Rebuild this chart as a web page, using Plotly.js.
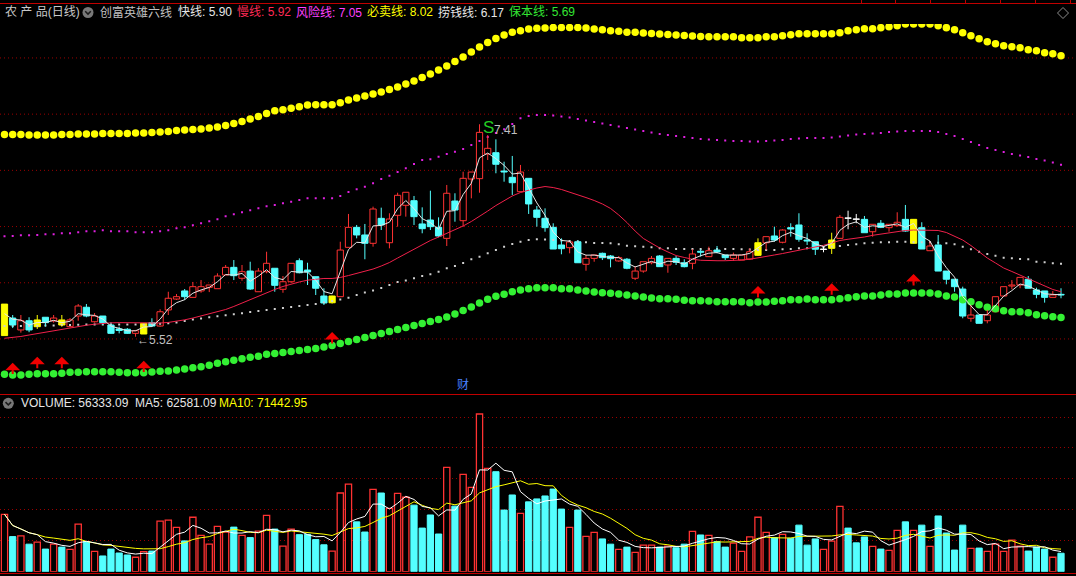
<!DOCTYPE html>
<html><head><meta charset="utf-8">
<script src="https://cdn.plot.ly/plotly-3.0.1.min.js"></script>
<style>html,body{margin:0;padding:0;background:#000;}#chart{width:1076px;height:576px;}</style>
</head><body><div id="chart"></div>
<script>
// ---------------- DATA ----------------
const openP = [
5.530,5.686,5.580,5.662,5.609,5.693,5.660,5.669,5.609,5.704,
5.782,5.653,5.704,5.624,5.589,5.586,5.550,5.544,5.645,5.615,
5.758,5.855,5.927,5.870,5.927,5.959,5.947,6.069,6.137,6.040,
6.104,5.920,6.098,6.129,5.942,6.009,6.196,6.113,6.054,5.882,
5.822,5.876,6.315,6.493,6.425,6.351,6.573,6.356,6.600,6.689,
6.730,6.523,6.558,6.493,6.395,6.727,6.552,6.923,6.926,7.145,
7.157,6.994,6.938,6.810,6.929,6.647,6.573,6.493,6.336,6.312,
6.365,6.164,6.217,6.262,6.238,6.194,6.209,6.040,6.104,6.178,
6.238,6.158,6.217,6.178,6.173,6.280,6.232,6.291,6.247,6.217,
6.202,6.211,6.244,6.356,6.416,6.360,6.490,6.514,6.380,6.365,
6.296,6.306,6.395,6.575,6.566,6.564,6.454,6.529,6.490,6.508,
6.564,6.351,6.490,6.285,6.336,6.104,6.031,5.944,5.684,5.713,
5.662,5.742,5.882,5.971,5.980,6.031,5.936,5.927,5.870,5.897];
const highP = [
5.810,5.713,5.713,5.693,5.713,5.693,5.713,5.713,5.686,5.811,
5.811,5.730,5.704,5.650,5.609,5.597,5.580,5.639,5.684,5.764,
5.920,5.900,5.944,6.007,6.024,5.980,6.084,6.158,6.202,6.158,
6.187,6.130,6.276,6.129,6.060,6.173,6.217,6.178,6.054,5.951,
5.885,6.365,6.612,6.514,6.523,6.677,6.668,6.618,6.801,6.805,
6.772,6.671,6.819,6.582,6.870,6.796,6.988,6.985,7.410,7.314,
7.276,7.077,7.128,7.048,6.929,6.683,6.662,6.529,6.395,6.363,
6.380,6.247,6.247,6.268,6.247,6.238,6.220,6.149,6.187,6.238,
6.247,6.217,6.238,6.209,6.298,6.298,6.321,6.327,6.247,6.268,
6.247,6.306,6.395,6.410,6.499,6.476,6.529,6.618,6.440,6.365,
6.321,6.445,6.603,6.641,6.612,6.594,6.520,6.558,6.520,6.627,
6.692,6.564,6.538,6.365,6.425,6.104,6.031,5.965,5.802,5.713,
5.758,5.876,5.965,6.024,6.048,6.060,5.956,5.927,5.927,5.951];
const lowP = [
5.530,5.597,5.556,5.560,5.589,5.610,5.645,5.609,5.605,5.662,
5.693,5.645,5.624,5.545,5.550,5.544,5.520,5.544,5.609,5.609,
5.713,5.847,5.847,5.870,5.911,5.917,5.947,6.069,6.024,6.018,
5.936,5.920,6.084,5.920,5.911,5.998,6.084,5.980,5.891,5.802,
5.815,5.876,6.315,6.395,6.209,6.321,6.469,6.306,6.499,6.588,
6.514,6.440,6.469,6.404,6.327,6.543,6.499,6.751,6.801,7.092,
6.974,6.899,6.781,6.810,6.612,6.499,6.454,6.300,6.253,6.262,
6.178,6.107,6.187,6.202,6.137,6.187,6.120,6.024,6.089,6.164,
6.143,6.089,6.158,6.137,6.120,6.232,6.232,6.262,6.202,6.196,
6.202,6.202,6.238,6.291,6.365,6.351,6.410,6.365,6.336,6.247,
6.271,6.256,6.395,6.476,6.529,6.445,6.410,6.486,6.454,6.499,
6.454,6.351,6.300,6.285,6.104,5.986,5.920,5.684,5.653,5.639,
5.639,5.742,5.882,5.942,5.951,5.951,5.862,5.823,5.870,5.862];
const closeP = [
5.810,5.624,5.662,5.580,5.669,5.645,5.686,5.624,5.669,5.793,
5.704,5.704,5.645,5.550,5.575,5.550,5.573,5.639,5.615,5.742,
5.862,5.876,5.876,5.965,5.965,5.980,6.060,6.137,6.063,6.098,
5.944,6.104,6.173,5.977,6.009,6.173,6.089,6.096,5.951,5.820,
5.882,6.291,6.493,6.425,6.351,6.656,6.514,6.567,6.778,6.805,
6.588,6.481,6.499,6.416,6.796,6.647,6.929,6.985,7.338,7.196,
7.054,6.985,6.890,6.985,6.701,6.582,6.490,6.300,6.303,6.363,
6.178,6.217,6.247,6.223,6.214,6.223,6.129,6.104,6.187,6.217,
6.143,6.217,6.182,6.143,6.256,6.271,6.285,6.274,6.223,6.247,
6.247,6.276,6.356,6.410,6.380,6.469,6.478,6.387,6.371,6.298,
6.298,6.380,6.582,6.573,6.564,6.445,6.520,6.493,6.520,6.538,
6.460,6.564,6.300,6.327,6.104,6.031,5.965,5.704,5.713,5.639,
5.713,5.876,5.965,5.980,6.048,5.951,5.897,5.870,5.891,5.891];
const volume = [
175000,107000,109000,84000,90000,69000,84000,75000,68000,145000,
92000,62000,48000,69000,57000,51000,44000,61000,63000,154000,
157000,135000,94000,166000,111000,84000,138000,121000,136000,111000,
104000,124000,172000,130000,78000,130000,113000,114000,98000,82000,
63000,240000,267000,152000,121000,251000,240000,193000,239000,227000,
203000,133000,173000,115000,318000,200000,297000,257000,481000,315000,
305000,188000,234000,178000,213000,222000,231000,252000,191000,135000,
188000,108000,120000,100000,84000,68000,75000,59000,81000,81000,
75000,78000,73000,84000,123000,112000,111000,92000,75000,87000,
62000,106000,166000,120000,104000,114000,102000,142000,81000,100000,
68000,93000,199000,133000,88000,106000,77000,69000,65000,126000,
152000,126000,142000,77000,170000,118000,66000,142000,71000,72000,
62000,84000,62000,96000,78000,63000,75000,69000,44000,56333.09];
// 慢线 (red line)
const slowLine = [
5.506,5.513,5.522,5.535,5.548,5.562,5.575,5.589,5.602,5.613,
5.622,5.631,5.638,5.643,5.645,5.645,5.643,5.640,5.639,5.642,
5.647,5.657,5.670,5.686,5.704,5.722,5.740,5.762,5.789,5.820,
5.851,5.882,5.913,5.940,5.967,5.989,6.007,6.023,6.033,6.038,
6.038,6.047,6.064,6.082,6.100,6.122,6.149,6.180,6.220,6.260,
6.300,6.340,6.376,6.407,6.438,6.469,6.505,6.545,6.589,6.638,
6.687,6.732,6.772,6.803,6.825,6.843,
6.856,6.847,6.830,6.807,6.785,6.758,6.732,6.701,6.661,6.603,
6.536,6.460,6.394,6.349,6.309,6.274,6.242,6.225,6.209,6.200,
6.196,6.196,6.196,6.198,6.202,6.209,6.220,6.233,6.247,6.260,
6.274,6.287,6.303,6.318,6.333,6.354,6.376,6.387,6.394,6.407,
6.422,6.434,6.445,6.454,6.465,6.469,6.469,6.469,6.465,6.447,
6.416,6.380,6.331,6.278,6.220,6.176,6.131,6.100,6.069,6.038,
6.007,5.976,5.940,5.920];
// 必卖线 (yellow dots)
const sellLine = [
7.319,7.319,7.319,7.315,7.315,7.315,7.315,7.319,7.319,7.323,7.323,
7.323,7.328,7.328,7.328,7.328,7.332,7.332,7.337,7.341,7.346,
7.355,7.359,7.363,7.368,7.377,7.386,7.399,7.417,7.435,7.457,7.479,7.506,
7.531,7.540,7.552,7.566,7.581,7.584,7.584,7.584,7.602,7.626,
7.644,7.661,7.679,7.697,7.719,7.742,7.768,7.795,7.826,7.857,7.893,7.928,7.968,8.008,8.053,8.097,8.137,8.173,8.204,8.228,8.242,8.258,8.264,
8.266,8.271,8.271,8.271,8.271,8.266,8.258,8.251,8.242,8.237,8.228,8.228,8.222,8.218,8.213,8.209,8.204,8.200,8.195,8.191,8.189,8.189,
8.189,8.189,8.180,8.180,8.180,8.189,8.189,8.198,8.207,8.216,8.216,8.216,8.216,8.216,8.225,8.242,8.251,8.260,8.260,8.269,8.278,8.287,
8.302,8.302,8.302,8.302,8.287,8.269,8.251,8.225,8.198,8.171,8.145,8.127,8.109,8.100,8.091,8.073,8.064,8.047,8.038,8.020];
// 风险线 (magenta dots)
const riskLine = [
6.413,6.416,6.422,6.422,6.425,6.431,6.431,6.440,6.440,6.449,6.458,6.458,6.467,6.458,6.458,6.458,6.449,6.449,6.449,6.458,
6.467,6.485,6.493,6.511,6.529,6.547,6.565,6.591,6.609,6.627,6.645,6.662,6.680,
6.692,6.707,6.721,6.736,6.751,6.751,6.751,6.751,6.772,6.808,6.832,6.855,6.885,6.923,6.953,6.985,7.018,7.057,
7.092,7.098,7.122,7.146,7.166,7.190,7.226,7.261,7.297,7.332,7.365,7.412,7.463,7.484,7.493,
7.493,7.488,7.479,7.470,7.457,7.444,7.430,7.417,7.404,7.390,7.377,7.364,7.350,7.337,7.323,7.315,7.306,7.297,7.288,7.279,
7.275,7.270,7.266,7.261,7.261,7.257,7.257,7.261,7.266,7.270,7.279,7.283,7.288,7.288,7.288,7.292,7.301,7.310,7.319,7.323,
7.328,7.332,7.341,7.346,7.350,7.350,7.350,7.350,7.341,7.323,7.306,7.279,7.252,7.226,7.199,7.181,7.163,7.146,7.132,7.119,
7.101,7.088,7.070,7.050];
// 捞钱线 (white dots)
const moneyLine = [
5.615,5.615,5.615,5.615,5.615,5.620,5.620,5.624,5.624,5.627,5.629,5.629,5.629,5.629,5.629,5.629,5.629,5.629,5.633,5.636,
5.639,5.646,5.660,5.673,5.682,5.693,5.702,5.711,5.719,5.728,5.740,5.749,5.758,
5.767,5.775,5.784,5.793,5.802,5.811,5.824,5.838,5.851,
5.867,5.891,5.913,5.931,5.953,5.980,6.007,6.020,6.040,6.060,6.075,6.098,6.129,6.149,6.176,6.209,6.232,6.262,6.291,6.321,6.345,6.365,6.381,6.387,
6.385,6.381,6.376,6.372,6.367,6.360,6.354,6.354,6.351,6.342,6.330,6.324,6.321,6.315,6.307,6.307,6.300,6.300,6.300,6.300,
6.300,6.300,6.300,6.300,6.298,6.296,6.291,6.291,6.291,6.298,6.300,6.307,6.307,
6.314,6.318,6.323,6.327,6.336,6.342,6.351,6.356,6.360,6.360,6.365,6.365,6.360,6.360,6.360,6.356,6.351,6.342,6.321,6.298,
6.276,6.256,6.241,6.223,6.218,6.211,6.209,6.187,6.182,6.173,6.170];
// 保本线 (green dots)
const baseLine = [
5.186,5.179,5.179,5.186,5.191,5.191,5.191,5.194,5.203,5.203,5.209,5.209,5.209,5.209,5.203,5.200,5.200,5.200,5.206,5.212,
5.215,5.224,5.233,5.244,5.253,5.266,5.283,5.298,5.310,5.324,5.337,5.346,5.364,
5.371,5.380,5.388,5.397,5.406,5.415,5.428,5.442,5.460,5.477,5.495,5.513,5.531,5.549,5.566,5.584,5.602,5.620,
5.638,5.655,5.673,5.695,5.722,5.753,5.784,5.820,5.853,5.880,5.897,5.920,5.936,5.947,5.956,
5.956,5.956,5.947,5.947,5.936,5.927,5.918,5.912,5.906,5.900,5.891,5.882,5.873,5.864,5.858,5.858,5.853,5.844,5.840,5.840,
5.838,5.831,5.831,5.831,5.831,5.823,5.829,5.829,5.835,5.840,5.849,5.849,5.856,
5.849,5.849,5.849,5.858,5.867,5.876,5.882,5.882,5.891,5.900,5.900,5.909,5.909,5.909,5.909,5.900,5.882,5.873,5.849,5.831,
5.805,5.782,5.769,5.751,5.743,5.743,5.734,5.716,5.707,5.698,5.690];
const yellowBars = [0,4,7,17,40,92,101,111];
const whiteBars = [100,103,104];
const arrowBars = [1,4,7,17,40,92,101,111];
const arrowTips = [5.289,5.342,5.342,5.307,5.562,5.971,5.995,6.078];
const topSignalBars = [0,6,8,10,18,19,20,22,25,28,32,47,56,60,84,89,92,98,101,104,110,119,120,121,125,128];
const sSignalBars = [59];
const caiBars = [56];
const fastStart = 5.64;
const headerTexts = [
  ['农 产 品(日线)', '#c8c8c8'], ['创富英雄六线', '#c0c0c0'], ['快线: 5.90', '#e6e6e6'],
  ['慢线: 5.92', '#ff2a55'], ['风险线: 7.05', '#ff40ff'], ['必卖线: 8.02', '#ffff00'],
  ['捞钱线: 6.17', '#e6e6e6'], ['保本线: 5.69', '#33e633']];
const volTexts = [['VOLUME: 56333.09  MA5: 62581.09', '#e6e6e6'], ['MA10: 71442.95', '#ffff00']];

// ---------------- LAYOUT HELPERS ----------------
const W = 1076, H = 576;
const px = x => x / W;
const py = y => (H - y) / H;
const pAt = y => 8.02 - (y - 55.7) / 112.4;      // price-axis calibration
const VOL_BASE = 571.7, VOL_PER_PX = 3050;
const FONT = '"Liberation Sans", "Noto Sans CJK SC", sans-serif';
const RED = '#ff3232', CYAN = '#54ffff', YEL = '#ffff00';
const N = closeP.length;
const idx = Array.from({length: N}, (_, i) => i);

// fast line (3-period exponential average of the closes)
const fast = [];
let f = fastStart;
for (let i = 0; i < N; i++) { f = f + (closeP[i] - f) * 0.5; fast.push(f); }
function sma(arr, n) { return arr.map((_, i) => { const a = Math.max(0, i - n + 1); let s = 0; for (let j = a; j <= i; j++) s += arr[j]; return s / (i - a + 1); }); }
const vma5 = sma(volume, 5), vma10 = sma(volume, 10);

const ySet = new Set(yellowBars), wSet = new Set(whiteBars);
const upIds = idx.filter(i => !ySet.has(i) && !wSet.has(i) && closeP[i] >= openP[i]);
const dnIds = idx.filter(i => !ySet.has(i) && !wSet.has(i) && closeP[i] < openP[i]);

function candle(ids, fill, line) {
  const x = [], base = [], len = [], wx = [], wy = [];
  ids.forEach(i => {
    const top = Math.max(openP[i], closeP[i]), bot = Math.min(openP[i], closeP[i]);
    x.push(i); base.push(bot); len.push(Math.max(top - bot, 0.004));
    wx.push(i, i, null, i, i, null); wy.push(highP[i], top, null, bot, lowP[i], null);
  });
  return [
    {type: 'scatter', mode: 'lines', x: wx, y: wy, line: {color: line, width: 1}, hoverinfo: 'skip'},
    {type: 'bar', x: x, base: base, y: len, width: 0.76, marker: {color: fill, line: {color: line, width: 1}}, hoverinfo: 'skip'}
  ];
}
const dots = (y, color, size, symbol) => ({type: 'scatter', mode: 'markers', x: idx, y: y,
  marker: {color: color, size: size, symbol: symbol, line: {width: 0}}, hoverinfo: 'skip'});

const traces = [
  dots(riskLine, '#e020e0', 2, 'square'),
  dots(moneyLine, '#cfcfcf', 2, 'square'),
  dots(sellLine, '#ffff00', 7.5, 'circle'),
  dots(baseLine, '#33f033', 7.5, 'circle'),
  ...candle(upIds, '#000000', RED),
  ...candle(dnIds, CYAN, CYAN),
  ...candle(yellowBars, YEL, YEL),
  ...candle(whiteBars, '#ffffff', '#ffffff'),
  {type: 'scatter', mode: 'lines', x: idx, y: slowLine, line: {color: '#f0204a', width: 1}, hoverinfo: 'skip'},
  {type: 'scatter', mode: 'lines', x: idx, y: fast, line: {color: '#e6e6e6', width: 1}, hoverinfo: 'skip'},
  {type: 'scatter', mode: 'markers', x: topSignalBars, y: topSignalBars.map(() => pAt(22)), cliponaxis: false,
   marker: {color: '#ff00ff', size: 3, symbol: 'square'}, hoverinfo: 'skip'}
];
const vUp = idx.filter(i => closeP[i] >= openP[i]), vDn = idx.filter(i => closeP[i] < openP[i]);
traces.push(
  {type: 'bar', x: vUp, y: vUp.map(i => volume[i]), yaxis: 'y2', width: 0.76, marker: {color: '#000', line: {color: RED, width: 1.3}}, hoverinfo: 'skip'},
  {type: 'bar', x: vDn, y: vDn.map(i => volume[i]), yaxis: 'y2', width: 0.76, marker: {color: CYAN, line: {color: CYAN, width: 1}}, hoverinfo: 'skip'},
  {type: 'scatter', mode: 'lines', x: idx, y: vma10, yaxis: 'y2', line: {color: '#ffff00', width: 1}, hoverinfo: 'skip'},
  {type: 'scatter', mode: 'lines', x: idx, y: vma5, yaxis: 'y2', line: {color: '#ffffff', width: 1}, hoverinfo: 'skip'}
);

// ---------------- SHAPES ----------------
const shapes = [];
const GRID = '#9a0000';
[5.5, 6.0, 6.5, 7.0, 7.5, 8.0].forEach(v => shapes.push({type: 'line', xref: 'paper', yref: 'y', x0: 0, x1: 1, y0: v, y1: v, layer: 'below', line: {color: GRID, width: 1, dash: '1px,3px'}}));
[417.5, 447.5, 478.5, 509.5, 540.5].forEach(y => shapes.push({type: 'line', xref: 'paper', yref: 'paper', x0: 0, x1: 1, y0: py(y), y1: py(y), layer: 'below', line: {color: GRID, width: 1, dash: '1px,3px'}}));
[3.5, 394.5, 573.5].forEach(y => shapes.push({type: 'line', xref: 'paper', yref: 'paper', x0: 0, x1: 1, y0: py(y), y1: py(y), line: {color: '#c00000', width: 1}}));
[861, 895, 930, 965, 1000, 1035, 1070].forEach(x => shapes.push({type: 'line', xref: 'paper', yref: 'paper', x0: px(x + 0.5), x1: px(x + 0.5), y0: py(0), y1: py(3.5), line: {color: '#c00000', width: 1}}));
const pth = pts => 'M' + pts.map(p => px(p[0]) + ',' + py(p[1])).join('L') + 'Z';
shapes.push({type: 'path', xref: 'paper', yref: 'paper', path: pth([[1063, 7.5], [1068.5, 13], [1063, 18.5], [1057.5, 13]]), line: {color: '#8c8c8c', width: 1}});
function icon(cx, cy) {
  shapes.push({type: 'circle', xref: 'paper', yref: 'paper', x0: px(cx - 5.5), x1: px(cx + 5.5), y0: py(cy + 5.5), y1: py(cy - 5.5), fillcolor: '#787878', line: {width: 0}});
  shapes.push({type: 'path', xref: 'paper', yref: 'paper', path: 'M' + px(cx - 2.8) + ',' + py(cy - 1.2) + 'L' + px(cx) + ',' + py(cy + 1.6) + 'L' + px(cx + 2.8) + ',' + py(cy - 1.2), line: {color: '#1a1a1a', width: 1.5}});
}
icon(88, 12.5); icon(8.3, 403.3);

// ---------------- ANNOTATIONS ----------------
const ann = [];
const headerX = [3, 98, 176, 235, 294, 365, 436, 507];
headerTexts.forEach((t, k) => ann.push({xref: 'paper', yref: 'paper', x: px(headerX[k]), y: py(12.5), xanchor: 'left', yanchor: 'middle', showarrow: false, text: t[0], font: {family: FONT, size: 12, color: t[1]}}));
const volX = [18.7, 216.7];
volTexts.forEach((t, k) => ann.push({xref: 'paper', yref: 'paper', x: px(volX[k]), y: py(403.3), xanchor: 'left', yanchor: 'middle', showarrow: false, text: t[0], font: {family: FONT, size: 12, color: t[1]}}));
let hi = 0, lo = 0;
idx.forEach(i => { if (highP[i] > highP[hi]) hi = i; if (lowP[i] < lowP[lo]) lo = i; });
ann.push({x: hi, y: highP[hi], xref: 'x', yref: 'y', xanchor: 'left', yanchor: 'middle', xshift: 12, yshift: -6, showarrow: false, text: highP[hi].toFixed(2), font: {family: FONT, size: 12, color: '#c0c0c0'}});
ann.push({x: lo, y: lowP[lo], xref: 'x', yref: 'y', xanchor: 'left', yanchor: 'middle', xshift: -1, yshift: -3, showarrow: false, text: '←' + lowP[lo].toFixed(2), font: {family: FONT, size: 12, color: '#c0c0c0'}});
sSignalBars.forEach(i => ann.push({x: i, y: highP[i], xref: 'x', yref: 'y', xanchor: 'center', yanchor: 'bottom', xshift: 0.5, yshift: -4, showarrow: false, text: 'S', font: {family: FONT, size: 17, color: '#22cc22'}}));
caiBars.forEach(i => ann.push({x: i, y: py(385), xref: 'x', yref: 'paper', xanchor: 'center', yanchor: 'middle', showarrow: false, text: '财', font: {family: FONT, size: 12, color: '#4a80ff'}}));
arrowBars.forEach((i, k) => ann.push({x: i, y: arrowTips[k], ax: i, ay: arrowTips[k] - 0.115, xref: 'x', yref: 'y', axref: 'x', ayref: 'y', showarrow: true, arrowhead: 1, arrowsize: 1.25, arrowwidth: 2, arrowcolor: '#f00000', standoff: 0, text: ''}));

const layout = {
  width: W, height: H, margin: {l: 0, r: 0, t: 0, b: 0}, paper_bgcolor: '#000', plot_bgcolor: '#000',
  showlegend: false, barmode: 'overlay', hovermode: false,
  xaxis: {range: [-0.549, 130.83], visible: false, fixedrange: true, anchor: 'y2'},
  yaxis: {domain: [py(394.7), py(24)], range: [pAt(394.7), pAt(24)], visible: false, fixedrange: true},
  yaxis2: {domain: [py(VOL_BASE), py(394.7)], range: [0, (VOL_BASE - 394.7) * VOL_PER_PX], visible: false, fixedrange: true},
  shapes: shapes, annotations: ann
};
Plotly.newPlot('chart', traces, layout, {staticPlot: true, displayModeBar: false});
</script></body></html>
